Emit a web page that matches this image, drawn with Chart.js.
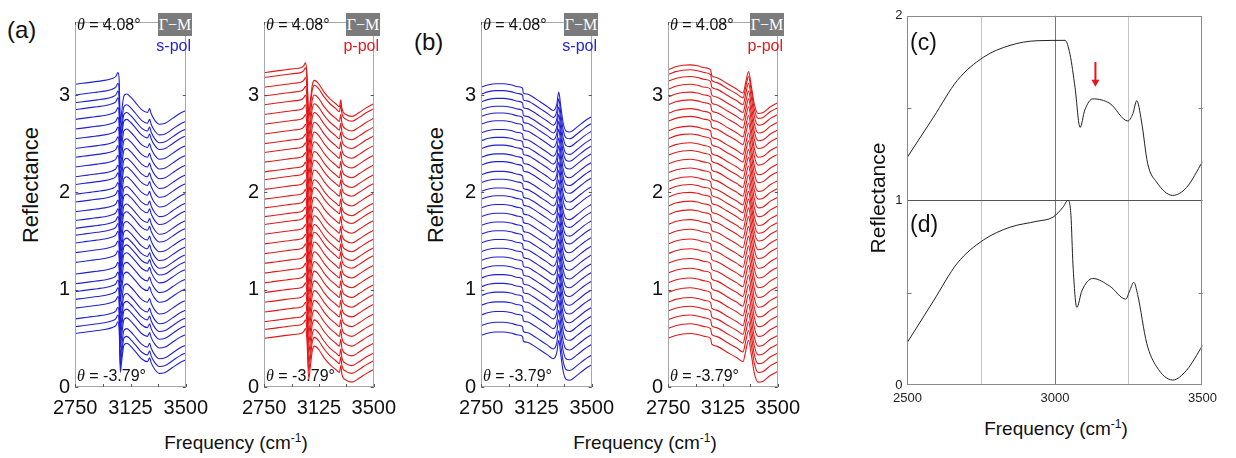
<!DOCTYPE html>
<html>
<head>
<meta charset="utf-8">
<script src="https://cdn.jsdelivr.net/npm/chart.js@4.4.1/dist/chart.umd.min.js"></script>
<style>
  body { margin: 0; background: #fff; width: 1236px; height: 458px; position: relative; overflow: hidden;
         font-family: "Liberation Sans", Arial, sans-serif; color: #111; }
  canvas { position: absolute; }
  .t { position: absolute; white-space: nowrap; line-height: 1; }
  .c { transform: translate(-50%, -50%); }
  .rot { transform: translate(-50%, -50%) rotate(-90deg); }
  .gm { position: absolute; background: #7b7b7b; color: #fff; font-family: "Liberation Serif", "DejaVu Serif", serif;
        font-size: 16px; text-align: center; line-height: 23px; height: 23px; width: 34px; }
  .th { position: absolute; white-space: nowrap; font-size: 16px; line-height: 1; transform: translateY(-50%); }
  .th i { font-family: "Liberation Serif", serif; }
  .pol { position: absolute; white-space: nowrap; font-size: 16px; line-height: 1; transform: translate(-100%, -50%); }
</style>
</head>
<body>
<canvas id="aS" width="173" height="417" style="left:44px;top:5px"></canvas>
<canvas id="aP" width="172" height="417" style="left:233px;top:5px"></canvas>
<canvas id="bS" width="173" height="417" style="left:450px;top:5px"></canvas>
<canvas id="bP" width="172" height="417" style="left:637px;top:5px"></canvas>
<canvas id="cd" width="336" height="407" style="left:887px;top:3px"></canvas>

<div class="t" style="left:7px;top:18px;font-size:24px">(a)</div>
<div class="t" style="left:414px;top:30px;font-size:24px">(b)</div>
<div class="t" style="left:910px;top:31px;font-size:23px">(c)</div>
<div class="t" style="left:910px;top:213px;font-size:23px">(d)</div>

<div class="t rot" style="left:31px;top:185px;font-size:22px">Reflectance</div>
<div class="t rot" style="left:436px;top:185px;font-size:22px">Reflectance</div>
<div class="t rot" style="left:877px;top:198px;font-size:21px">Reflectance</div>

<div class="t c" style="left:236px;top:442px;font-size:19px">Frequency (cm<sup style="font-size:12px">-1</sup>)</div>
<div class="t c" style="left:645px;top:442px;font-size:19px">Frequency (cm<sup style="font-size:12px">-1</sup>)</div>
<div class="t c" style="left:1056px;top:428px;font-size:19px">Frequency (cm<sup style="font-size:12px">-1</sup>)</div>

<div class="th" style="left:77px;top:25px"><i>θ</i> = 4.08°</div>
<div class="gm" style="left:158px;top:13px">Γ−M</div>
<div class="pol" style="left:191px;top:46px;color:#2323d6">s-pol</div>
<div class="th" style="left:77px;top:376px"><i>θ</i> = -3.79°</div>

<div class="th" style="left:266px;top:25px"><i>θ</i> = 4.08°</div>
<div class="gm" style="left:346px;top:13px">Γ−M</div>
<div class="pol" style="left:379px;top:46px;color:#e41a1a">p-pol</div>
<div class="th" style="left:266px;top:376px"><i>θ</i> = -3.79°</div>

<div class="th" style="left:483px;top:25px"><i>θ</i> = 4.08°</div>
<div class="gm" style="left:564px;top:13px">Γ−M</div>
<div class="pol" style="left:597px;top:46px;color:#2323d6">s-pol</div>
<div class="th" style="left:483px;top:376px"><i>θ</i> = -3.79°</div>

<div class="th" style="left:670px;top:25px"><i>θ</i> = 4.08°</div>
<div class="gm" style="left:750px;top:13px">Γ−M</div>
<div class="pol" style="left:783px;top:46px;color:#e41a1a">p-pol</div>
<div class="th" style="left:670px;top:376px"><i>θ</i> = -3.79°</div>

<script>
// ---- data ----
// (a) s-pol: profile relative to each curve's low-frequency level
const aSFreq  = [2750, 2800, 2850, 2900, 2950, 3000, 3025, 3040, 3048, 3056, 3064, 3080, 3100, 3125, 3160, 3200, 3240, 3255, 3265, 3290, 3320, 3360, 3410, 3460, 3500];
const aSShape = [0, 0.01, 0.02, 0.03, 0.04, 0.06, 0.08, 0.12, 0.05, -0.40, -0.30, -0.12, -0.10, -0.13, -0.19, -0.26, -0.29, -0.25, -0.30, -0.37, -0.41, -0.40, -0.35, -0.30, -0.27];
const aSOffsets = [3.11, 3.00, 2.92, 2.85, 2.75, 2.65, 2.55, 2.45, 2.36, 2.26, 2.16, 2.08, 1.98, 1.90, 1.80, 1.71, 1.63, 1.56, 1.48, 1.38, 1.28, 1.16, 1.06, 0.98, 0.90, 0.81, 0.70, 0.62, 0.55];

// (a) p-pol
const aPFreq  = [2750, 2800, 2850, 2900, 2950, 3000, 3020, 3032, 3042, 3055, 3065, 3080, 3095, 3125, 3160, 3200, 3240, 3265, 3274, 3282, 3310, 3350, 3400, 3450, 3500];
const aPShape = [0, 0.01, 0.02, 0.03, 0.04, 0.05, 0.07, 0.10, 0.00, -0.42, -0.30, -0.12, -0.08, -0.12, -0.20, -0.27, -0.32, -0.35, -0.28, -0.37, -0.43, -0.45, -0.41, -0.36, -0.32];
const aPOffsets = [3.23, 3.18, 3.08, 2.99, 2.90, 2.80, 2.70, 2.60, 2.50, 2.41, 2.31, 2.21, 2.13, 2.03, 1.93, 1.84, 1.75, 1.67, 1.57, 1.47, 1.37, 1.27, 1.17, 1.07, 0.97, 0.87, 0.77, 0.67, 0.59, 0.50];

// (b) s-pol
const bSFreq  = [2750, 2800, 2850, 2900, 2950, 3000, 3030, 3036, 3060, 3100, 3150, 3200, 3240, 3262, 3276, 3290, 3305, 3325, 3350, 3400, 3450, 3500];
const bSShape = [0, 0.025, 0.035, 0.035, 0.025, 0.005, -0.01, -0.06, -0.07, -0.10, -0.15, -0.20, -0.24, -0.18, -0.05, -0.20, -0.36, -0.45, -0.46, -0.41, -0.35, -0.30];
const bSOffsets = [3.08, 3.01, 2.93, 2.85, 2.78, 2.70, 2.61, 2.53, 2.45, 2.36, 2.28, 2.18, 2.10, 2.01, 1.93, 1.84, 1.75, 1.66, 1.57, 1.48, 1.39, 1.30, 1.21, 1.12, 1.03, 0.94, 0.84, 0.74, 0.63, 0.53];

// (b) p-pol
const bPFreq  = [2750, 2800, 2850, 2900, 2950, 3000, 3040, 3048, 3080, 3150, 3220, 3262, 3282, 3300, 3318, 3340, 3365, 3400, 3450, 3500];
const bPShape = [0, 0.03, 0.045, 0.05, 0.04, 0.02, 0.0, -0.06, -0.08, -0.14, -0.20, -0.24, -0.12, -0.02, -0.16, -0.36, -0.45, -0.44, -0.38, -0.34];
const bPOffsets = [3.26, 3.21, 3.14, 3.06, 2.98, 2.90, 2.81, 2.73, 2.63, 2.55, 2.46, 2.38, 2.29, 2.20, 2.11, 2.03, 1.95, 1.86, 1.77, 1.67, 1.57, 1.47, 1.37, 1.27, 1.17, 1.07, 0.97, 0.87, 0.78, 0.69, 0.60, 0.50];

// (c) and (d) calculated spectra, same axis (0..2)
const cFreq = [2500, 2588, 2669, 2757, 2848, 2939, 3034, 3051, 3068, 3085, 3101, 3128, 3186, 3247, 3264, 3277, 3293, 3314, 3344, 3399, 3446, 3500];
const cVal  = [1.235, 1.45, 1.65, 1.775, 1.84, 1.865, 1.867, 1.79, 1.61, 1.395, 1.49, 1.55, 1.525, 1.43, 1.47, 1.54, 1.43, 1.20, 1.10, 1.027, 1.07, 1.21];
const dFreq = [2500, 2588, 2669, 2757, 2848, 2939, 2993, 3027, 3044, 3054, 3061, 3074, 3091, 3128, 3186, 3240, 3253, 3267, 3280, 3311, 3344, 3399, 3446, 3500];
const dVal  = [0.232, 0.455, 0.66, 0.785, 0.855, 0.887, 0.909, 0.963, 1.0, 0.92, 0.65, 0.42, 0.51, 0.577, 0.535, 0.465, 0.51, 0.556, 0.49, 0.225, 0.10, 0.027, 0.08, 0.214];

// tick values
const stackXTicks = [2750, 3125, 3500];
const stackXMarks = [2750, 2937.5, 3125, 3312.5, 3500];
const stackYTicks = [0, 1, 2, 3];
const cdXTicks = [2500, 2750, 3000, 3250, 3500];
const cdXLabels = [2500, 3000, 3500];
const cdYTicks = [0, 0.5, 1, 1.5, 2];

// red arrow in (c)
const arrowFreq = 3137, arrowFrom = 1.75, arrowTo = 1.615;

const BLUE = '#2020d4';
const RED = '#e31717';

// frame round the plot area + small inner tick marks
const framePlugin = {
  id: 'frame',
  afterDatasetsDraw(chart, args, opts) {
    const { ctx, chartArea: a, scales: { x, y } } = chart;
    ctx.save();
    ctx.strokeStyle = opts.color;
    ctx.lineWidth = 1;
    ctx.strokeRect(Math.round(a.left) + 0.5, Math.round(a.top) + 0.5, Math.round(a.width) - 1, Math.round(a.height) - 1);
    ctx.strokeStyle = opts.tickColor;
    ctx.beginPath();
    (opts.xMarks || []).forEach(v => {
      const px = Math.round(x.getPixelForValue(v)) + 0.5;
      ctx.moveTo(px, a.bottom); ctx.lineTo(px, a.bottom - opts.len);
      ctx.moveTo(px, a.top); ctx.lineTo(px, a.top + opts.len);
    });
    (opts.yMarks || []).forEach(v => {
      const py = Math.round(y.getPixelForValue(v)) + 0.5;
      ctx.moveTo(a.left, py); ctx.lineTo(a.left + opts.len, py);
      ctx.moveTo(a.right, py); ctx.lineTo(a.right - opts.len, py);
    });
    ctx.stroke();
    ctx.restore();
  }
};

const arrowPlugin = {
  id: 'arrow',
  afterDatasetsDraw(chart) {
    const { ctx, scales: { x, y } } = chart;
    const px = x.getPixelForValue(arrowFreq);
    const y0 = y.getPixelForValue(arrowFrom);
    const y1 = y.getPixelForValue(arrowTo);
    ctx.save();
    ctx.strokeStyle = '#e8141c';
    ctx.fillStyle = '#e8141c';
    ctx.lineWidth = 2;
    ctx.beginPath(); ctx.moveTo(px, y0); ctx.lineTo(px, y1 - 6); ctx.stroke();
    ctx.beginPath(); ctx.moveTo(px - 4, y1 - 7); ctx.lineTo(px + 4, y1 - 7); ctx.lineTo(px, y1); ctx.closePath(); ctx.fill();
    ctx.restore();
  }
};

function stackSets(freq, shape, offsets, color) {
  return offsets.map(off => ({
    data: freq.map((f, i) => ({ x: f, y: shape[i] + off })),
    borderColor: color,
    borderWidth: 1.1,
    pointRadius: 0,
    fill: false,
    cubicInterpolationMode: 'monotone'
  }));
}

function makeStack(id, freq, shape, offsets, color) {
  return new Chart(document.getElementById(id), {
    type: 'line',
    data: { datasets: stackSets(freq, shape, offsets, color) },
    plugins: [framePlugin],
    options: {
      responsive: false,
      animation: false,
      layout: { padding: { top: 8, right: 25, left: 0, bottom: 0 } },
      plugins: {
        legend: { display: false },
        tooltip: { enabled: false },
        frame: { color: '#a8a8a8', tickColor: '#555', len: 3, xMarks: stackXMarks, yMarks: stackYTicks }
      },
      scales: {
        x: {
          type: 'linear', min: 2750, max: 3500,
          afterBuildTicks: s => { s.ticks = stackXTicks.map(v => ({ value: v })); },
          afterFit: s => { s.height = 35; },
          ticks: { autoSkip: false, maxRotation: 0, padding: 9, color: '#111', font: { family: 'Liberation Sans', size: 20 },
                   callback: v => String(v) },
          grid: { display: false, drawTicks: false },
          border: { display: false }
        },
        y: {
          min: 0, max: 3.75,
          afterBuildTicks: s => { s.ticks = stackYTicks.map(v => ({ value: v })); },
          afterFit: s => { s.width = 30; },
          ticks: { padding: 5, color: '#111', font: { family: 'Liberation Sans', size: 20 } },
          grid: { display: false, drawTicks: false },
          border: { display: false }
        }
      }
    }
  });
}

makeStack('aS', aSFreq, aSShape, aSOffsets, BLUE);
makeStack('aP', aPFreq, aPShape, aPOffsets, RED);
makeStack('bS', bSFreq, bSShape, bSOffsets, BLUE);
makeStack('bP', bPFreq, bPShape, bPOffsets, RED);

new Chart(document.getElementById('cd'), {
  type: 'line',
  data: {
    datasets: [
      { data: cFreq.map((f, i) => ({ x: f, y: cVal[i] })), borderColor: '#222', borderWidth: 1, pointRadius: 0, cubicInterpolationMode: 'monotone' },
      { data: dFreq.map((f, i) => ({ x: f, y: dVal[i] })), borderColor: '#222', borderWidth: 1, pointRadius: 0, cubicInterpolationMode: 'monotone' }
    ]
  },
  plugins: [framePlugin, arrowPlugin],
  options: {
    responsive: false,
    animation: false,
    layout: { padding: { top: 8, right: 20, left: 0, bottom: 0 } },
    plugins: {
      legend: { display: false },
      tooltip: { enabled: false },
      frame: { color: '#8a8a8a', tickColor: '#777', len: 4, xMarks: [], yMarks: [0.5, 1.5] }
    },
    scales: {
      x: {
        type: 'linear', min: 2500, max: 3500,
        afterBuildTicks: s => { s.ticks = cdXTicks.map(v => ({ value: v })); },
        afterFit: s => { s.height = 25; },
        ticks: {
          autoSkip: false, maxRotation: 0, padding: 6, color: '#222', font: { family: 'Liberation Sans', size: 13 },
          callback: v => cdXLabels.includes(v) ? String(v) : ''
        },
        grid: {
          drawTicks: false,
          color: c => c.tick.value === 3000 ? '#777' : (c.tick.value === 2750 || c.tick.value === 3250) ? '#c4c4c4' : 'rgba(0,0,0,0)'
        },
        border: { display: false }
      },
      y: {
        min: 0, max: 2,
        afterBuildTicks: s => { s.ticks = cdYTicks.map(v => ({ value: v })); },
        afterFit: s => { s.width = 20; },
        ticks: {
          padding: 5, color: '#222', font: { family: 'Liberation Sans', size: 13 },
          callback: v => Number.isInteger(v) ? String(v) : ''
        },
        grid: {
          drawTicks: false,
          color: c => c.tick.value === 1 ? '#555' : 'rgba(0,0,0,0)'
        },
        border: { display: false }
      }
    }
  }
});
</script>
</body>
</html>
